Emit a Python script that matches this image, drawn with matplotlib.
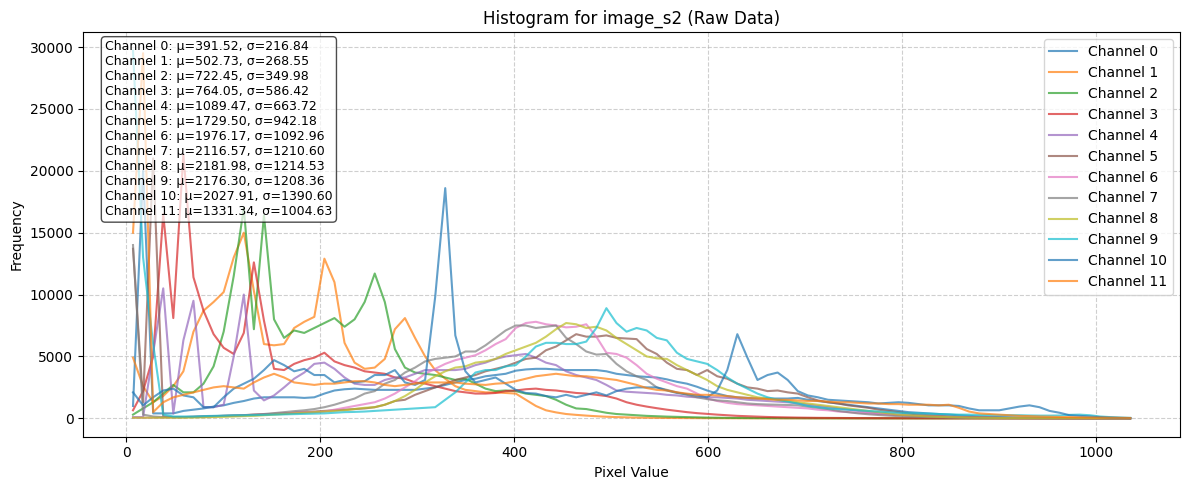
import numpy as np
import matplotlib
matplotlib.use("Agg")
from matplotlib import pyplot as plt

# histogram range (pixel values) and bin count
pixel_min, pixel_max = 2.0, 1040.0
n_bins = 100

ch0 = [1000, 20000, 400, 400, 400, 600, 700, 800, 950, 1050,
       1250, 1400, 1600, 1700, 1700, 1700, 1700, 1650, 1700, 2000,
       2250, 2350, 2400, 2350, 2300, 2300, 2300, 2300, 2300, 2400,
       2500, 2700, 2900, 3100, 3200, 3400, 3500, 3600, 3850, 3950,
       4000, 4000, 3950, 3900, 3900, 3900, 3900, 3800, 3600, 3500,
       3400, 3350, 3300, 3150, 2950, 2800, 2550, 2250, 2000, 1800,
       1700, 1650, 1600, 1600, 1600, 1600, 1650, 1500, 1400, 1300,
       1200, 1100, 1000, 900, 800, 700, 600, 500, 450, 400,
       350, 300, 250, 200, 150, 120, 100, 80, 60, 50,
       40, 30, 25, 20, 15, 10, 8, 5, 3, 2]
ch1 = [4900, 2600, 1300, 1800, 2600, 3800, 7000, 8700, 9400, 10200,
       13000, 15000, 10300, 6000, 5900, 6000, 7300, 7800, 8200, 12900,
       11000, 6100, 4500, 4000, 4100, 4800, 7200, 8100, 6500, 5000,
       3900, 3200, 2600, 2300, 2200, 2100, 2100, 2050, 2000, 1500,
       1000, 650, 480, 350, 280, 220, 170, 130, 100, 80,
       60, 50, 40, 30, 25, 20, 15, 12, 10, 8,
       6, 5, 4, 3, 3, 2, 2, 1, 1, 1,
       1, 0, 0, 0, 0, 0, 0, 0, 0, 0,
       0, 0, 0, 0, 0, 0, 0, 0, 0, 0,
       0, 0, 0, 0, 0, 0, 0, 0, 0, 0]
ch2 = [300, 800, 1300, 2000, 2700, 2100, 2100, 2800, 4200, 7000,
       11500, 17000, 7200, 16400, 8000, 6500, 7100, 6900, 7300, 7700,
       8100, 7400, 8000, 9400, 11700, 9400, 5600, 4100, 3700, 3600,
       3500, 3300, 3100, 3200, 2800, 2400, 2200, 2250, 2200, 2000,
       1900, 1800, 1500, 1100, 800, 750, 600, 450, 350, 300,
       250, 200, 170, 140, 120, 100, 80, 60, 50, 40,
       30, 25, 20, 18, 15, 12, 10, 8, 6, 5,
       4, 3, 3, 2, 2, 1, 1, 1, 0, 0,
       0, 0, 0, 0, 0, 0, 0, 0, 0, 0,
       0, 0, 0, 0, 0, 0, 0, 0, 0, 0]
ch3 = [650, 2200, 5000, 16500, 8100, 21300, 11400, 8700, 6800, 5700,
       5200, 6900, 12600, 7900, 4000, 3900, 4400, 4700, 4900, 5300,
       4600, 4300, 4100, 3800, 3700, 3600, 3300, 3200, 2900, 2800,
       2600, 2400, 2200, 2100, 2000, 2000, 2050, 2200, 2250, 2350,
       2400, 2300, 2250, 2150, 2050, 2000, 1900, 1800, 1600, 1300,
       1100, 950, 820, 700, 600, 500, 420, 360, 300, 250,
       200, 170, 140, 110, 90, 75, 60, 50, 40, 35,
       30, 25, 20, 18, 15, 12, 10, 8, 6, 5,
       4, 3, 3, 2, 2, 1, 1, 1, 0, 0,
       0, 0, 0, 0, 0, 0, 0, 0, 0, 0]
ch4 = [100, 100, 5300, 10500, 400, 6300, 9500, 900, 900, 1100,
       5000, 10000, 2250, 1450, 1850, 2500, 3200, 3700, 4400, 4500,
       4000, 3300, 2800, 2700, 2700, 3100, 3300, 3300, 3600, 3900,
       3900, 3900, 3900, 4000, 4300, 4500, 4800, 5000, 5100, 5200,
       4900, 4500, 4300, 3800, 3500, 3300, 3100, 2700, 2250, 2150,
       2100, 2050, 2000, 1900, 1850, 1750, 1700, 1700, 1700, 1650,
       1600, 1500, 1450, 1400, 1350, 1300, 1200, 1100, 1000, 900,
       800, 700, 600, 500, 400, 350, 300, 250, 200, 170,
       140, 120, 100, 80, 60, 50, 40, 30, 25, 20,
       15, 12, 10, 8, 6, 5, 4, 3, 2, 1]
ch5 = [13700, 1300, 21000, 150, 100, 100, 120, 150, 180, 200,
       230, 260, 300, 330, 370, 400, 450, 500, 550, 600,
       650, 700, 750, 800, 900, 1100, 1400, 1500, 1900, 2200,
       2500, 2800, 3100, 3300, 3500, 3800, 4000, 4200, 4500, 4800,
       4900, 5500, 5800, 6300, 6800, 6600, 6600, 6700, 6500, 6450,
       6400, 5600, 5200, 4500, 4000, 3900, 3500, 3900, 3400, 3200,
       2800, 2500, 2400, 2200, 2250, 2100, 2000, 1700, 1450, 1300,
       1200, 1050, 950, 850, 700, 600, 500, 400, 300, 250,
       200, 150, 120, 100, 80, 60, 50, 40, 30, 25,
       20, 15, 12, 10, 8, 6, 5, 4, 3, 2]
ch6 = [50, 50, 50, 60, 80, 100, 120, 150, 170, 200,
       220, 250, 280, 320, 360, 400, 450, 500, 500, 550,
       700, 850, 1000, 1150, 1300, 1600, 2000, 2500, 3000, 3600,
       4000, 4400, 4700, 4900, 5100, 5500, 6000, 6400, 7300, 7700,
       7800, 7600, 7500, 7350, 7400, 7600, 6600, 5300, 5200, 4900,
       4300, 3600, 3200, 2900, 2600, 2400, 2000, 1600, 1400, 1250,
       1150, 1100, 1050, 1000, 950, 900, 850, 800, 700, 650,
       550, 500, 450, 400, 350, 300, 250, 200, 170, 140,
       120, 100, 80, 60, 50, 40, 30, 25, 20, 15,
       12, 10, 8, 6, 5, 4, 3, 2, 1, 1]
ch7 = [14000, 300, 150, 100, 100, 100, 120, 150, 170, 200,
       220, 250, 300, 350, 420, 500, 580, 650, 750, 900,
       1100, 1350, 1600, 2000, 2200, 2800, 3100, 3700, 4100, 4600,
       4800, 4900, 5000, 5400, 5400, 5900, 6500, 7100, 7500, 7500,
       7300, 7400, 7500, 6500, 6000, 5400, 5150, 5200, 4400, 3800,
       3400, 3100, 2500, 2300, 2100, 1900, 1700, 1550, 1450, 1400,
       1300, 1200, 1150, 1120, 1100, 1080, 1050, 950, 850, 750,
       600, 500, 400, 330, 270, 220, 180, 150, 120, 100,
       80, 60, 50, 40, 30, 25, 20, 15, 12, 10,
       8, 6, 5, 4, 3, 2, 2, 1, 1, 1]
ch8 = [50, 50, 50, 50, 50, 50, 60, 80, 100, 120,
       150, 180, 200, 250, 300, 350, 400, 450, 500, 550,
       600, 650, 750, 850, 900, 1100, 1400, 1800, 2300, 2900,
       3400, 3800, 4100, 4200, 4500, 4600, 4800, 5200, 5500, 5800,
       6100, 6600, 7200, 7700, 7600, 7300, 7400, 7100, 6500, 6000,
       5500, 5000, 4850, 4800, 4300, 3900, 3500, 3100, 2600, 2300,
       2100, 1900, 1700, 1600, 1500, 1400, 1300, 1200, 1100, 1000,
       900, 800, 700, 600, 500, 400, 300, 250, 200, 150,
       120, 100, 80, 60, 50, 40, 30, 25, 20, 15,
       12, 10, 8, 6, 5, 4, 3, 2, 1, 1]
ch9 = [29700, 13000, 6000, 300, 150, 150, 150, 180, 200, 220,
       250, 250, 260, 280, 300, 320, 340, 360, 380, 400,
       450, 500, 520, 550, 600, 650, 700, 750, 800, 850,
       900, 1500, 2100, 2900, 3700, 3900, 3900, 4200, 4300, 5000,
       5800, 6100, 6100, 6000, 6000, 6200, 7300, 8900, 7700, 7000,
       7300, 7100, 6500, 6300, 5300, 4800, 4600, 4400, 3900, 3300,
       2800, 2400, 2000, 1700, 1500, 1350, 1200, 1000, 900, 800,
       750, 700, 650, 600, 550, 500, 450, 420, 400, 380,
       350, 330, 300, 300, 280, 270, 250, 250, 250, 230,
       220, 220, 230, 280, 300, 250, 150, 100, 60, 40]
ch10 = [2100, 1050, 1700, 2250, 2400, 1850, 1700, 900, 900, 1700,
        2400, 2800, 3200, 3900, 4700, 4300, 3800, 4000, 3500, 3500,
        2900, 3100, 2900, 3000, 3500, 3500, 3900, 2900, 2700, 3100,
        9800, 18600, 6700, 3800, 2900, 3100, 3300, 2800, 2300, 2050,
        2000, 1800, 1700, 1900, 1700, 1900, 2100, 1850, 2200, 2400,
        2500, 2500, 2500, 2250, 2050, 1950, 1850, 1700, 2250, 3900,
        6800, 4900, 3100, 3500, 3700, 3100, 2200, 1850, 1700, 1500,
        1450, 1400, 1350, 1300, 1200, 1250, 1300, 1250, 1150, 1050,
        1050, 1050, 1000, 800, 650, 650, 650, 800, 950, 1050,
        900, 600, 450, 250, 200, 150, 100, 60, 40, 20]
ch11 = [15000, 29500, 500, 1300, 1700, 1900, 2100, 2300, 2500, 2600,
        2500, 2400, 2900, 3300, 3600, 3300, 2900, 2800, 2700, 2800,
        2800, 2900, 3000, 3000, 2900, 2700, 2600, 2700, 2800, 2900,
        2900, 2900, 2900, 2800, 2750, 2700, 2800, 2850, 3000, 3200,
        3400, 3500, 3600, 3500, 3400, 3400, 3300, 3200, 3100, 2900,
        2700, 2450, 2300, 2250, 2100, 2000, 1900, 1900, 1850, 1800,
        1700, 1650, 1600, 1550, 1500, 1500, 1450, 1400, 1400, 1350,
        1300, 1300, 1250, 1200, 1200, 1150, 1150, 1100, 1100, 1100,
        1050, 1100, 850, 550, 400, 350, 300, 250, 200, 180,
        150, 130, 110, 100, 80, 70, 60, 50, 40, 30]

channels = [ch0, ch1, ch2, ch3, ch4, ch5, ch6, ch7, ch8, ch9, ch10, ch11]
means = [391.52, 502.73, 722.45, 764.05, 1089.47, 1729.50,
         1976.17, 2116.57, 2181.98, 2176.30, 2027.91, 1331.34]
stds = [216.84, 268.55, 349.98, 586.42, 663.72, 942.18,
        1092.96, 1210.60, 1214.53, 1208.36, 1390.60, 1004.63]

edges = np.linspace(pixel_min, pixel_max, n_bins + 1)
centers = (edges[:-1] + edges[1:]) / 2

fig, ax = plt.subplots(figsize=(12, 5), dpi=100)

for i, counts in enumerate(channels):
    ax.plot(centers, counts, label=f'Channel {i}', alpha=0.7)

stats = "\n".join(f'Channel {i}: μ={m:.2f}, σ={s:.2f}'
                  for i, (m, s) in enumerate(zip(means, stds)))
ax.text(0.02, 0.98, stats, transform=ax.transAxes, fontsize=9,
        va='top', bbox=dict(boxstyle='round', facecolor='white', alpha=0.7))

ax.set_title('Histogram for image_s2 (Raw Data)')
ax.set_xlabel('Pixel Value')
ax.set_ylabel('Frequency')
ax.legend(loc='upper right')
ax.grid(True, linestyle='--', alpha=0.6)

plt.tight_layout()
plt.savefig('out.png', bbox_inches='tight')
